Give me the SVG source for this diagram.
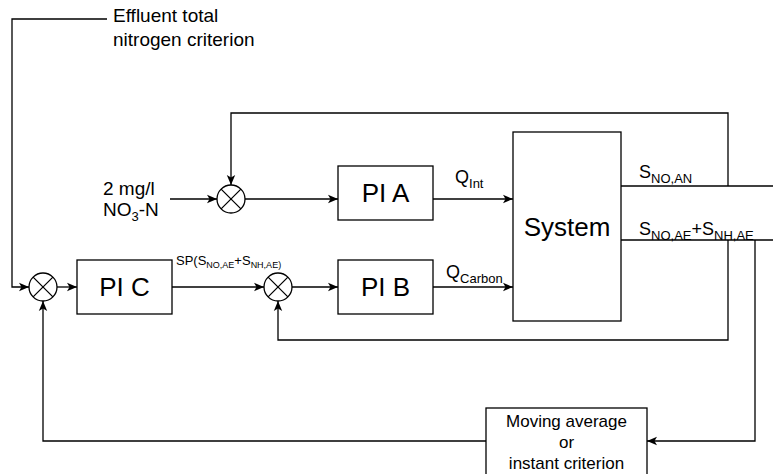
<svg xmlns="http://www.w3.org/2000/svg" width="773" height="474" viewBox="0 0 773 474">
<defs>
<style>
.box{fill:#fff;stroke:#000;stroke-width:1.3}
.sum{fill:#fff;stroke:#000;stroke-width:1.3}
.ln{fill:none;stroke:#000;stroke-width:1.3}
.t{font-family:"Liberation Sans",Arial,sans-serif;fill:#000}
</style>
<marker id="ah" markerUnits="userSpaceOnUse" markerWidth="12" markerHeight="10" refX="10" refY="5" orient="auto" viewBox="0 0 12 10">
<path d="M0,0.8 L10,5 L0,9.2 L2.5,5 z" fill="#000"/>
</marker>
</defs>
<g id="connectors">
<polyline class="ln" points="107,19 12,19 12,287 29,287" marker-end="url(#ah)"/>
<line class="ln" x1="57" y1="287" x2="77" y2="287" marker-end="url(#ah)"/>
<line class="ln" x1="172" y1="287" x2="264" y2="287" marker-end="url(#ah)"/>
<line class="ln" x1="292" y1="287" x2="338" y2="287" marker-end="url(#ah)"/>
<line class="ln" x1="433" y1="287" x2="513" y2="287" marker-end="url(#ah)"/>
<line class="ln" x1="170" y1="199" x2="217" y2="199" marker-end="url(#ah)"/>
<line class="ln" x1="245" y1="199" x2="338" y2="199" marker-end="url(#ah)"/>
<line class="ln" x1="433" y1="199" x2="513" y2="199" marker-end="url(#ah)"/>
<line class="ln" x1="621" y1="186" x2="773" y2="186"/>
<line class="ln" x1="621" y1="240" x2="773" y2="240"/>
<polyline class="ln" points="728,186 728,113 231,113 231,185" marker-end="url(#ah)"/>
<polyline class="ln" points="728,240 728,340 278,340 278,301" marker-end="url(#ah)"/>
<polyline class="ln" points="755,240 755,441 647,441" marker-end="url(#ah)"/>
<polyline class="ln" points="486,441 43,441 43,301" marker-end="url(#ah)"/>
</g>
<g id="sumA">
<circle class="sum" cx="231" cy="199" r="14"/>
<path class="ln" d="M221.1,189.1 L240.9,208.9 M240.9,189.1 L221.1,208.9"/>
</g>
<g id="sumC">
<circle class="sum" cx="43" cy="287" r="14"/>
<path class="ln" d="M33.1,277.1 L52.9,296.9 M52.9,277.1 L33.1,296.9"/>
</g>
<g id="sumB">
<circle class="sum" cx="278" cy="287" r="14"/>
<path class="ln" d="M268.1,277.1 L287.9,296.9 M287.9,277.1 L268.1,296.9"/>
</g>
<g id="piA">
<rect class="box" x="338" y="166" width="95" height="54"/>
<text class="t" x="385.5" y="202" font-size="26" text-anchor="middle">PI A</text>
</g>
<g id="piB">
<rect class="box" x="338" y="260" width="95" height="54"/>
<text class="t" x="385.5" y="296" font-size="26" text-anchor="middle">PI B</text>
</g>
<g id="piC">
<rect class="box" x="77" y="260" width="95" height="54"/>
<text class="t" x="124.5" y="296" font-size="26" text-anchor="middle">PI C</text>
</g>
<g id="system">
<rect class="box" x="513" y="132" width="108" height="189"/>
<text class="t" x="567" y="236" font-size="26" text-anchor="middle">System</text>
</g>
<g id="movingAverage">
<rect class="box" x="486" y="408" width="161" height="80"/>
<text class="t" x="566.5" y="427" font-size="17" text-anchor="middle">Moving average</text>
<text class="t" x="566.5" y="448" font-size="17" text-anchor="middle">or</text>
<text class="t" x="566.5" y="469" font-size="17" text-anchor="middle">instant criterion</text>
</g>
<g id="labels">
<text class="t" x="113" y="22" font-size="19">Effluent total</text>
<text class="t" x="113" y="46" font-size="19">nitrogen criterion</text>
<text class="t" x="103" y="195" font-size="19">2 mg/l</text>
<text class="t" x="103" y="216" font-size="19">NO<tspan font-size="13" dy="5">3</tspan><tspan dy="-5">-N</tspan></text>
<text class="t" x="455" y="183" font-size="18">Q<tspan font-size="13" dy="5">Int</tspan></text>
<text class="t" x="446" y="278" font-size="18">Q<tspan font-size="13" dy="5">Carbon</tspan></text>
<text class="t" x="639" y="178" font-size="18">S<tspan font-size="13" dy="5">NO,AN</tspan></text>
<text class="t" x="639" y="235" font-size="18">S<tspan font-size="13" dy="5">NO,AE</tspan><tspan dy="-5">+S</tspan><tspan font-size="13" dy="5">NH,AE</tspan></text>
<text class="t" x="176" y="265" font-size="13">SP(S<tspan font-size="9" dy="3">NO,AE</tspan><tspan dy="-3">+S</tspan><tspan font-size="9" dy="3">NH,AE)</tspan></text>
</g>
</svg>
